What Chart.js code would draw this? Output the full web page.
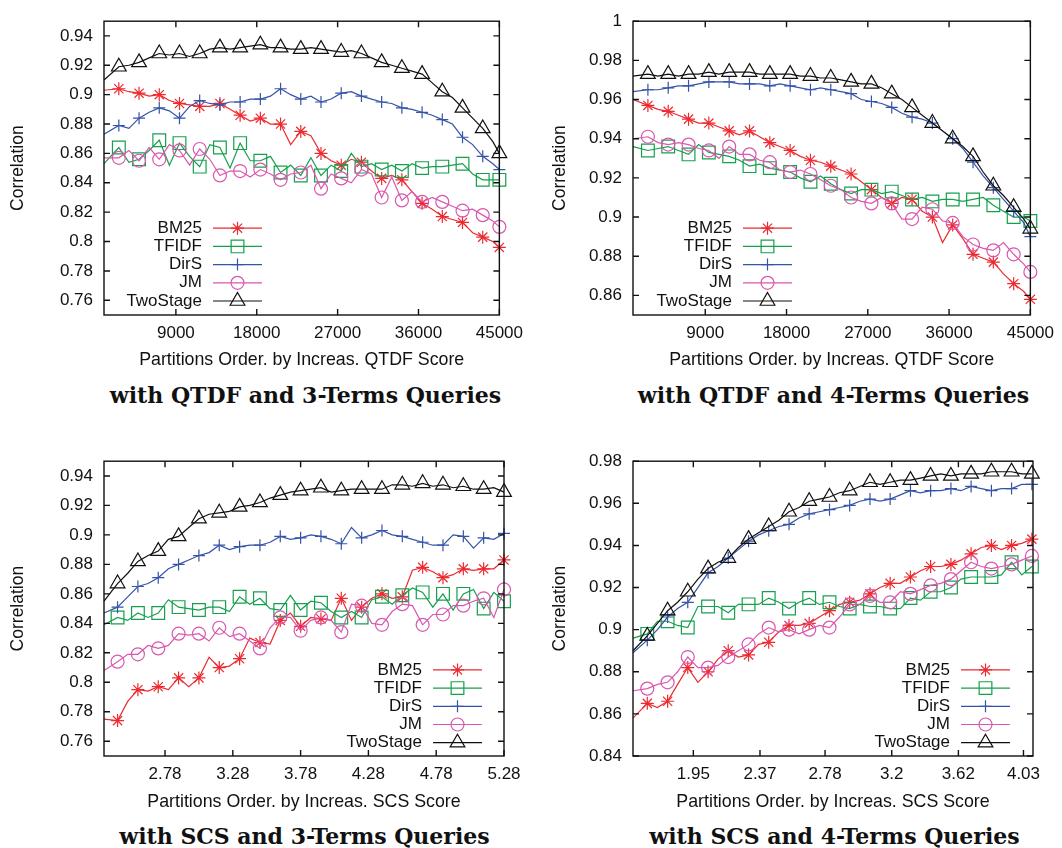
<!DOCTYPE html>
<html>
<head>
<meta charset="utf-8">
<title>Correlation by partition order</title>
<script src="https://cdn.jsdelivr.net/npm/chart.js@4.4.1/dist/chart.umd.min.js"></script>
<style>
  html, body { margin: 0; padding: 0; background: #fff; }
  #page { position: relative; width: 1062px; height: 848px; overflow: hidden; }
  #page canvas { position: absolute; }
  .caption {
    position: absolute; width: 531px; text-align: center; line-height: 26px;
    font-family: 'DejaVu Serif', 'Liberation Serif', serif; font-weight: bold;
    font-size: 22px; color: #111; white-space: nowrap;
  }
</style>
</head>
<body>
<div id="page">
  <canvas id="qtdf3" width="531" height="378" style="left:0;top:0"></canvas>
  <canvas id="qtdf4" width="531" height="378" style="left:531px;top:0"></canvas>
  <canvas id="scs3" width="531" height="378" style="left:0;top:440px"></canvas>
  <canvas id="scs4" width="531" height="378" style="left:531px;top:440px"></canvas>
  <div class="caption" style="left:40px;top:382px">with QTDF and 3-Terms Queries</div>
  <div class="caption" style="left:568px;top:382px">with QTDF and 4-Terms Queries</div>
  <div class="caption" style="left:39px;top:823px">with SCS and 3-Terms Queries</div>
  <div class="caption" style="left:569px;top:823px">with SCS and 4-Terms Queries</div>
</div>
<script>
'use strict';

const seriesNames = ['BM25', 'TFIDF', 'DirS', 'JM', 'TwoStage'];

// x positions of the sampled partitions
const qtdfX = [1000, 2650, 3775, 4900, 6025, 7150, 8275, 9400, 10525, 11650,
  12775, 13900, 15025, 16150, 17275, 18400, 19525, 20650, 21775, 22900,
  24025, 25150, 26275, 27400, 28525, 29650, 30775, 31900, 33025, 34150,
  35275, 36400, 37525, 38650, 39775, 40900, 42025, 43150, 44275, 45000];
const scs3X = [2.33, 2.43, 2.505, 2.58, 2.655, 2.73, 2.805, 2.88, 2.955, 3.03,
  3.105, 3.18, 3.255, 3.33, 3.405, 3.48, 3.555, 3.63, 3.705, 3.78,
  3.855, 3.93, 4.005, 4.08, 4.155, 4.23, 4.305, 4.38, 4.455, 4.53,
  4.605, 4.68, 4.755, 4.83, 4.905, 4.98, 5.055, 5.13, 5.205, 5.28];
const scs4X = [1.57, 1.66, 1.724, 1.788, 1.851, 1.915, 1.979, 2.043, 2.106, 2.17,
  2.234, 2.298, 2.361, 2.425, 2.489, 2.553, 2.616, 2.68, 2.744, 2.808,
  2.871, 2.935, 2.999, 3.063, 3.126, 3.19, 3.254, 3.318, 3.381, 3.445,
  3.509, 3.573, 3.636, 3.7, 3.764, 3.828, 3.891, 3.955, 4.019, 4.083];

// tick labels
const qtdfXTicks = [9000, 18000, 27000, 36000, 45000];
const scs3XTicks = [2.78, 3.28, 3.78, 4.28, 4.78, 5.28];
const scs4XTicks = [1.95, 2.37, 2.78, 3.2, 3.62, 4.03];
const yTicksLow = [0.76, 0.78, 0.8, 0.82, 0.84, 0.86, 0.88, 0.9, 0.92, 0.94];
const yTicksQtdf4 = [0.86, 0.88, 0.9, 0.92, 0.94, 0.96, 0.98, 1];
const yTicksScs4 = [0.84, 0.86, 0.88, 0.9, 0.92, 0.94, 0.96, 0.98];

// QTDF, 3-terms queries
const qtdf3BM25 = [0.903, 0.904, 0.902, 0.901, 0.899, 0.900, 0.896, 0.894, 0.893, 0.892,
  0.892, 0.894, 0.890, 0.886, 0.882, 0.884, 0.880, 0.880, 0.866, 0.875,
  0.872, 0.860, 0.855, 0.852, 0.856, 0.854, 0.848, 0.843, 0.845, 0.842,
  0.834, 0.826, 0.822, 0.817, 0.815, 0.813, 0.806, 0.803, 0.800, 0.796];
const qtdf3TFIDF = [0.853, 0.864, 0.854, 0.856, 0.862, 0.869, 0.852, 0.867, 0.858, 0.851,
  0.866, 0.864, 0.850, 0.867, 0.855, 0.855, 0.858, 0.847, 0.852, 0.845,
  0.857, 0.845, 0.852, 0.848, 0.860, 0.851, 0.853, 0.849, 0.852, 0.848,
  0.853, 0.850, 0.851, 0.851, 0.852, 0.853, 0.846, 0.842, 0.842, 0.842];
const qtdf3DirS = [0.873, 0.879, 0.877, 0.884, 0.888, 0.891, 0.889, 0.884, 0.892, 0.896,
  0.894, 0.893, 0.895, 0.895, 0.897, 0.897, 0.899, 0.904, 0.900, 0.897,
  0.899, 0.895, 0.897, 0.901, 0.902, 0.899, 0.897, 0.895, 0.894, 0.891,
  0.890, 0.888, 0.886, 0.883, 0.880, 0.871, 0.866, 0.858, 0.853, 0.849];
const qtdf3JM = [0.857, 0.857, 0.862, 0.855, 0.864, 0.856, 0.866, 0.862, 0.852, 0.863,
  0.856, 0.845, 0.848, 0.848, 0.844, 0.849, 0.846, 0.842, 0.846, 0.847,
  0.852, 0.836, 0.846, 0.843, 0.840, 0.849, 0.846, 0.830, 0.844, 0.828,
  0.834, 0.827, 0.830, 0.827, 0.824, 0.821, 0.822, 0.818, 0.814, 0.810];
const qtdf3TwoStage = [0.910, 0.919, 0.920, 0.922, 0.925, 0.928, 0.927, 0.928, 0.926, 0.928,
  0.931, 0.932, 0.931, 0.932, 0.933, 0.934, 0.932, 0.932, 0.931, 0.931,
  0.932, 0.931, 0.930, 0.929, 0.930, 0.928, 0.925, 0.922, 0.920, 0.918,
  0.916, 0.914, 0.908, 0.902, 0.898, 0.891, 0.884, 0.877, 0.868, 0.860];

// QTDF, 4-terms queries
const qtdf4BM25 = [0.960, 0.957, 0.955, 0.954, 0.952, 0.950, 0.948, 0.948, 0.946, 0.944,
  0.942, 0.944, 0.941, 0.938, 0.936, 0.934, 0.931, 0.929, 0.928, 0.926,
  0.924, 0.922, 0.918, 0.914, 0.910, 0.907, 0.910, 0.909, 0.903, 0.900,
  0.887, 0.896, 0.889, 0.881, 0.879, 0.877, 0.871, 0.866, 0.862, 0.858];
const qtdf4TFIDF = [0.936, 0.934, 0.935, 0.936, 0.934, 0.932, 0.937, 0.933, 0.932, 0.931,
  0.929, 0.926, 0.927, 0.925, 0.924, 0.923, 0.920, 0.918, 0.921, 0.917,
  0.914, 0.912, 0.914, 0.914, 0.912, 0.913, 0.911, 0.909, 0.910, 0.908,
  0.909, 0.909, 0.908, 0.909, 0.910, 0.906, 0.903, 0.900, 0.900, 0.898];
const qtdf4DirS = [0.964, 0.965, 0.965, 0.966, 0.967, 0.967, 0.968, 0.969, 0.969, 0.969,
  0.968, 0.968, 0.968, 0.967, 0.968, 0.967, 0.966, 0.965, 0.966, 0.965,
  0.964, 0.963, 0.960, 0.959, 0.958, 0.956, 0.953, 0.951, 0.950, 0.948,
  0.944, 0.940, 0.935, 0.928, 0.921, 0.915, 0.909, 0.903, 0.897, 0.890];
const qtdf4JM = [0.940, 0.941, 0.938, 0.937, 0.938, 0.937, 0.935, 0.934, 0.930, 0.936,
  0.932, 0.932, 0.929, 0.928, 0.924, 0.923, 0.924, 0.922, 0.919, 0.916,
  0.914, 0.910, 0.908, 0.907, 0.910, 0.907, 0.899, 0.899, 0.905, 0.904,
  0.898, 0.897, 0.890, 0.886, 0.884, 0.883, 0.887, 0.881, 0.876, 0.872];
const qtdf4TwoStage = [0.972, 0.973, 0.972, 0.973, 0.972, 0.973, 0.973, 0.974, 0.973, 0.974,
  0.974, 0.974, 0.973, 0.973, 0.973, 0.973, 0.972, 0.972, 0.971, 0.971,
  0.970, 0.969, 0.968, 0.968, 0.966, 0.963, 0.960, 0.956, 0.952, 0.948,
  0.944, 0.940, 0.936, 0.931, 0.923, 0.916, 0.911, 0.905, 0.899, 0.894];

// SCS, 3-terms queries
const scs3BM25 = [0.775, 0.774, 0.787, 0.795, 0.794, 0.797, 0.795, 0.803, 0.797, 0.803,
  0.817, 0.810, 0.811, 0.816, 0.830, 0.827, 0.826, 0.842, 0.847, 0.838,
  0.844, 0.843, 0.842, 0.857, 0.842, 0.851, 0.857, 0.860, 0.857, 0.858,
  0.876, 0.878, 0.875, 0.871, 0.873, 0.877, 0.876, 0.877, 0.877, 0.883];
const scs3TFIDF = [0.839, 0.844, 0.842, 0.847, 0.844, 0.847, 0.856, 0.851, 0.850, 0.849,
  0.851, 0.851, 0.848, 0.858, 0.853, 0.857, 0.850, 0.849, 0.859, 0.849,
  0.855, 0.854, 0.848, 0.844, 0.848, 0.844, 0.856, 0.858, 0.853, 0.859,
  0.864, 0.861, 0.851, 0.860, 0.849, 0.860, 0.863, 0.850, 0.861, 0.855];
const scs3DirS = [0.847, 0.851, 0.858, 0.865, 0.867, 0.871, 0.877, 0.880, 0.883, 0.886,
  0.888, 0.893, 0.890, 0.892, 0.893, 0.893, 0.895, 0.899, 0.897, 0.898,
  0.900, 0.899, 0.897, 0.894, 0.905, 0.898, 0.900, 0.903, 0.900, 0.899,
  0.897, 0.895, 0.893, 0.893, 0.900, 0.899, 0.891, 0.898, 0.897, 0.901];
const scs3JM = [0.808, 0.814, 0.819, 0.819, 0.825, 0.823, 0.825, 0.833, 0.832, 0.833,
  0.828, 0.837, 0.831, 0.833, 0.828, 0.823, 0.837, 0.844, 0.844, 0.835,
  0.842, 0.844, 0.842, 0.834, 0.853, 0.852, 0.840, 0.839, 0.848, 0.853,
  0.852, 0.839, 0.846, 0.846, 0.852, 0.852, 0.855, 0.857, 0.844, 0.863];
const scs3TwoStage = [0.855, 0.867, 0.874, 0.882, 0.886, 0.889, 0.897, 0.899, 0.905, 0.911,
  0.914, 0.915, 0.916, 0.919, 0.920, 0.922, 0.925, 0.927, 0.929, 0.930,
  0.931, 0.932, 0.929, 0.930, 0.931, 0.931, 0.931, 0.931, 0.934, 0.934,
  0.933, 0.935, 0.933, 0.934, 0.932, 0.933, 0.931, 0.931, 0.932, 0.929];

// SCS, 4-terms queries
const scs4BM25 = [0.858, 0.865, 0.863, 0.866, 0.874, 0.882, 0.875, 0.880, 0.886, 0.890,
  0.887, 0.888, 0.893, 0.894, 0.899, 0.902, 0.902, 0.903, 0.906, 0.909,
  0.912, 0.913, 0.914, 0.917, 0.920, 0.922, 0.922, 0.925, 0.928, 0.930,
  0.930, 0.931, 0.933, 0.936, 0.939, 0.940, 0.938, 0.940, 0.941, 0.943];
const scs4TFIDF = [0.896, 0.898, 0.904, 0.904, 0.902, 0.901, 0.911, 0.911, 0.911, 0.908,
  0.912, 0.912, 0.912, 0.915, 0.913, 0.910, 0.913, 0.915, 0.912, 0.913,
  0.911, 0.910, 0.912, 0.911, 0.911, 0.910, 0.910, 0.915, 0.914, 0.918,
  0.918, 0.920, 0.924, 0.925, 0.925, 0.925, 0.926, 0.932, 0.926, 0.930];
const scs4DirS = [0.889, 0.895, 0.900, 0.906, 0.910, 0.913, 0.920, 0.927, 0.930, 0.934,
  0.938, 0.942, 0.945, 0.947, 0.949, 0.950, 0.953, 0.955, 0.956, 0.957,
  0.958, 0.959, 0.961, 0.962, 0.961, 0.962, 0.964, 0.966, 0.965, 0.966,
  0.966, 0.967, 0.966, 0.968, 0.967, 0.966, 0.967, 0.967, 0.969, 0.969];
const scs4JM = [0.871, 0.872, 0.874, 0.875, 0.880, 0.887, 0.882, 0.882, 0.883, 0.887,
  0.890, 0.893, 0.898, 0.901, 0.899, 0.900, 0.898, 0.900, 0.902, 0.901,
  0.906, 0.912, 0.912, 0.916, 0.913, 0.913, 0.918, 0.917, 0.919, 0.921,
  0.922, 0.924, 0.928, 0.932, 0.930, 0.929, 0.930, 0.931, 0.933, 0.935];
const scs4TwoStage = [0.890, 0.897, 0.903, 0.909, 0.913, 0.918, 0.924, 0.929, 0.932, 0.934,
  0.939, 0.943, 0.946, 0.949, 0.952, 0.956, 0.958, 0.961, 0.962, 0.963,
  0.965, 0.966, 0.968, 0.970, 0.969, 0.970, 0.971, 0.971, 0.972, 0.973,
  0.974, 0.973, 0.974, 0.974, 0.974, 0.975, 0.975, 0.975, 0.974, 0.974];

// look of each method (gnuplot style markers)
const seriesStyle = [
  { color: '#ec2a30', point: 'star', radius: 6.5 },
  { color: '#15a04d', point: 'rect', radius: 9 },
  { color: '#3553a8', point: 'cross', radius: 6 },
  { color: '#d957ae', point: 'circle', radius: 6.5 },
  { color: '#111111', point: 'triangle', radius: 8.5 }
];

const SANS = "'Liberation Sans', Arial, Helvetica, sans-serif";
const CANVAS_W = 531;
const CANVAS_H = 378;

function fmtTick(v) {
  return String(Math.round(v * 100) / 100);
}

// border with inward tick marks on all four sides
const framePlugin = {
  id: 'frame',
  afterDatasetsDraw(chart) {
    const { ctx, chartArea: a, scales } = chart;
    const t = 6;
    ctx.save();
    ctx.strokeStyle = '#111';
    ctx.lineWidth = 1.4;
    ctx.beginPath();
    scales.y.ticks.forEach(tk => {
      const py = scales.y.getPixelForValue(tk.value);
      ctx.moveTo(a.left, py); ctx.lineTo(a.left + t, py);
      ctx.moveTo(a.right, py); ctx.lineTo(a.right - t, py);
    });
    scales.x.ticks.forEach(tk => {
      const px = scales.x.getPixelForValue(tk.value);
      ctx.moveTo(px, a.bottom); ctx.lineTo(px, a.bottom - t);
      ctx.moveTo(px, a.top); ctx.lineTo(px, a.top + t);
    });
    ctx.stroke();
    ctx.strokeRect(a.left, a.top, a.right - a.left, a.bottom - a.top);
    ctx.restore();
  }
};

// key inside the plot: label right aligned, then line sample with marker
const keyPlugin = {
  id: 'innerKey',
  afterDraw(chart, args, opts) {
    const { ctx, chartArea: a } = chart;
    const n = chart.data.datasets.length;
    const tx = a.left + opts.textRight;
    ctx.save();
    chart.data.datasets.forEach((ds, i) => {
      const yy = a.bottom - opts.bottomGap - opts.rowGap * (n - 1 - i);
      ctx.fillStyle = '#111';
      ctx.font = opts.font;
      ctx.textAlign = 'right';
      ctx.textBaseline = 'middle';
      ctx.fillText(ds.label, tx, yy);
      const x0 = tx + opts.lineGap;
      const x1 = x0 + opts.lineLen;
      ctx.strokeStyle = ds.borderColor;
      ctx.lineWidth = 1.2;
      ctx.beginPath();
      ctx.moveTo(x0, yy);
      ctx.lineTo(x1, yy);
      ctx.stroke();
      ctx.fillStyle = 'rgba(0,0,0,0)';
      Chart.helpers.drawPoint(ctx, {
        pointStyle: seriesStyle[i].point,
        radius: seriesStyle[i].radius,
        rotation: 0,
        borderWidth: 1.2
      }, (x0 + x1) / 2, yy);
    });
    ctx.restore();
  }
};

function makePanel(id, cfg) {
  const datasets = cfg.series.map((vals, i) => {
    const st = seriesStyle[i];
    return {
      label: seriesNames[i],
      data: cfg.x.map((xv, j) => ({ x: xv, y: vals[j] })),
      borderColor: st.color,
      borderWidth: 1.2,
      pointStyle: st.point,
      pointRadius: c => (c.dataIndex % 2 === 1 ? st.radius : 0),
      pointBorderColor: st.color,
      pointBackgroundColor: 'rgba(0,0,0,0)',
      pointBorderWidth: 1.2,
      tension: 0,
      clip: false,
      order: 4 - i
    };
  });

  const area = cfg.area;
  return new Chart(document.getElementById(id), {
    type: 'line',
    data: { datasets },
    options: {
      responsive: false,
      animation: false,
      devicePixelRatio: 1,
      events: [],
      layout: { padding: { left: 0, top: area.top, right: CANVAS_W - area.right, bottom: 0 } },
      plugins: {
        legend: { display: false },
        tooltip: { enabled: false },
        innerKey: {
          textRight: cfg.keyTextRight,
          bottomGap: cfg.keyBottomGap,
          rowGap: 18.2,
          lineGap: 11,
          lineLen: 49,
          font: '17px ' + SANS
        }
      },
      scales: {
        x: {
          type: 'linear',
          min: cfg.xMin,
          max: cfg.xMax,
          afterBuildTicks: s => { s.ticks = cfg.xTicks.map(v => ({ value: v })); },
          afterFit: s => { s.height = CANVAS_H - area.bottom; },
          grid: { display: false, drawTicks: false },
          border: { display: false },
          ticks: {
            autoSkip: false, maxRotation: 0, minRotation: 0, padding: 8,
            color: '#111', font: { family: SANS, size: 17 },
            callback: v => fmtTick(v)
          },
          title: {
            display: true, text: cfg.xTitle, color: '#111',
            font: { family: SANS, size: 17.8 },
            padding: { top: 0, bottom: cfg.xTitlePad }
          }
        },
        y: {
          type: 'linear',
          min: cfg.yMin,
          max: cfg.yMax,
          afterBuildTicks: s => { s.ticks = cfg.yTicks.map(v => ({ value: v })); },
          afterFit: s => { s.width = area.left; },
          grid: { display: false, drawTicks: false },
          border: { display: false },
          ticks: {
            padding: 11, color: '#111', font: { family: SANS, size: 17 },
            callback: v => fmtTick(v)
          },
          title: {
            display: true, text: 'Correlation', color: '#111',
            font: { family: SANS, size: 17.5 },
            padding: { top: cfg.yTitlePad, bottom: 0 }
          }
        }
      }
    },
    plugins: [framePlugin, keyPlugin]
  });
}

makePanel('qtdf3', {
  x: qtdfX,
  series: [qtdf3BM25, qtdf3TFIDF, qtdf3DirS, qtdf3JM, qtdf3TwoStage],
  xMin: 1000, xMax: 45000, xTicks: qtdfXTicks,
  yMin: 0.75, yMax: 0.95, yTicks: yTicksLow,
  xTitle: 'Partitions Order. by Increas. QTDF Score',
  area: { left: 104, top: 11, right: 504, bottom: 315 },
  xTitlePad: 7, yTitlePad: 7.5,
  keyTextRight: 98, keyBottomGap: 14
});

makePanel('qtdf4', {
  x: qtdfX,
  series: [qtdf4BM25, qtdf4TFIDF, qtdf4DirS, qtdf4JM, qtdf4TwoStage],
  xMin: 1000, xMax: 45000, xTicks: qtdfXTicks,
  yMin: 0.85, yMax: 1, yTicks: yTicksQtdf4,
  xTitle: 'Partitions Order. by Increas. QTDF Score',
  area: { left: 102, top: 11, right: 502, bottom: 315 },
  xTitlePad: 7, yTitlePad: 19,
  keyTextRight: 99, keyBottomGap: 14
});

makePanel('scs3', {
  x: scs3X,
  series: [scs3BM25, scs3TFIDF, scs3DirS, scs3JM, scs3TwoStage],
  xMin: 2.33, xMax: 5.28, xTicks: scs3XTicks,
  yMin: 0.75, yMax: 0.95, yTicks: yTicksLow,
  xTitle: 'Partitions Order. by Increas. SCS Score',
  area: { left: 104, top: 13, right: 504, bottom: 316 },
  xTitlePad: 5, yTitlePad: 7.5,
  keyTextRight: 318, keyBottomGap: 13.3
});

makePanel('scs4', {
  x: scs4X,
  series: [scs4BM25, scs4TFIDF, scs4DirS, scs4JM, scs4TwoStage],
  xMin: 1.57, xMax: 4.09, xTicks: scs4XTicks,
  yMin: 0.84, yMax: 0.98, yTicks: yTicksScs4,
  xTitle: 'Partitions Order. by Increas. SCS Score',
  area: { left: 102, top: 13, right: 502, bottom: 316 },
  xTitlePad: 5, yTitlePad: 19,
  keyTextRight: 317, keyBottomGap: 13.3
});
</script>
</body>
</html>
